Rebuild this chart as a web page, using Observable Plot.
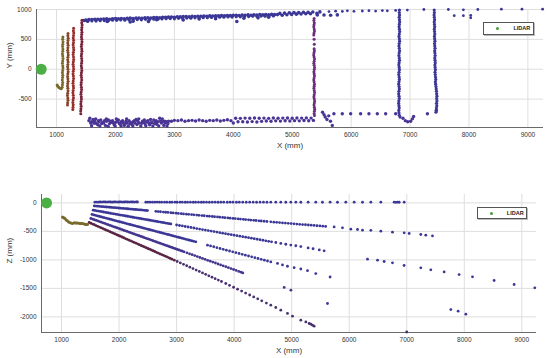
<!DOCTYPE html>
<html><head><meta charset="utf-8">
<script src="https://cdn.jsdelivr.net/npm/d3@7"></script>
<script src="https://cdn.jsdelivr.net/npm/@observablehq/plot@0.6"></script>
<style>
body{margin:0;background:#fff;font-family:"Liberation Sans",Arial,sans-serif}
#wrap{position:relative;width:550px;height:358px;overflow:hidden}
#wrap svg{display:block}
.leg{position:absolute;background:#fff;border:1px solid #555;box-shadow:1px 1px 0 #bbb;font-size:5.5px;font-weight:bold;color:#222}
.leg .d{position:absolute;width:3px;height:3px;border-radius:50%;background:#4a9a3a}
.leg .t{position:absolute}
</style></head><body>
<div id="wrap"></div>
<script>
// ---------- shared ----------
const xTicks = [1000,2000,3000,4000,5000,6000,7000,8000,9000];
const yTicksTop = [-500,0,500,1000];
const zTicks = [-2000,-1500,-1000,-500,0];
const lidar = [[740,0]];
const legendLabel = "LIDAR";

// ---------- top view (X-Y) ----------
const nearA = [[1108,540],[1104,500],[1110,460],[1106,420],[1102,380],[1108,340],[1105,300],[1100,260],[1106,220],[1110,180],[1104,140],[1100,100],[1106,60],[1109,20],[1104,-20],[1100,-60],[1106,-100],[1102,-140],[1098,-180],[1104,-220],[1100,-260],[1095,-300],[1080,-325],[1060,-320],[1040,-305],[1022,-285],[1010,-265]];
const nearB = [[1195,600],[1192,560],[1198,520],[1194,480],[1190,440],[1196,400],[1193,360],[1189,320],[1195,280],[1199,240],[1193,200],[1190,160],[1196,120],[1192,80],[1188,40],[1194,0],[1197,-40],[1191,-80],[1187,-120],[1193,-160],[1196,-200],[1190,-240],[1186,-280],[1192,-320],[1195,-360],[1189,-400],[1185,-440],[1191,-480],[1194,-520],[1188,-560],[1186,-600]];
const nearC = [[1290,685],[1286,645],[1292,605],[1288,565],[1284,525],[1290,485],[1287,445],[1282,405],[1288,365],[1292,325],[1286,285],[1282,245],[1288,205],[1291,165],[1285,125],[1281,85],[1287,45],[1290,5],[1284,-35],[1280,-75],[1286,-115],[1289,-155],[1283,-195],[1279,-235],[1285,-275],[1288,-315],[1282,-355],[1278,-395],[1284,-435],[1287,-475],[1281,-515],[1277,-555],[1283,-595],[1280,-635],[1276,-675]];
const nearD = [[1432,820],[1428,780],[1434,740],[1430,700],[1426,660],[1431,620],[1427,580],[1423,540],[1429,500],[1432,460],[1426,420],[1422,380],[1428,340],[1431,300],[1425,260],[1421,220],[1427,180],[1430,140],[1424,100],[1420,60],[1426,20],[1429,-20],[1422,-60],[1418,-100],[1424,-140],[1427,-180],[1420,-220],[1416,-260],[1422,-300],[1425,-340],[1418,-380],[1414,-420],[1420,-460],[1423,-500],[1416,-540],[1412,-580],[1418,-620],[1414,-660],[1410,-700],[1412,-745]];
const topWall = [[1470,815],[1500,825],[1550,830],[1600,832],[1650,835],[1700,838],[1750,836],[1800,840],[1850,843],[1900,838],[1950,845],[2000,848],[2050,844],[2100,850],[2150,846],[2200,852],[2250,855],[2300,848],[2350,856],[2400,858],[2450,852],[2500,860],[2550,862],[2600,858],[2650,865],[2700,866],[2750,862],[2800,870],[2850,868],[2900,872],[2950,875],[3000,870],[3050,878],[3100,876],[3150,880],[3200,882],[3250,878],[3300,885],[3350,883],[3400,888],[3450,886],[3500,890],[3550,888],[3600,893],[3650,890],[3700,895],[3750,893],[3800,898],[3850,895],[3900,900],[3950,897],[4000,902],[4050,905],[4100,900],[4150,906],[4200,904],[4250,910],[4300,905],[4350,912],[4400,908],[4450,914],[4500,910],[4550,916],[4600,912],[4650,918],[4700,914],
[1520,810],[1860,800],[2250,790],[2300,805],[2560,800],[2700,830],[3150,825],[3420,840],[3700,845],[4060,800],[4180,855],[4420,860],[4600,870],
[4750,915],[4790,935],[4830,905],[4870,940],[4910,912],[4950,945],[4990,918],[5030,950],[5070,922],[5110,948],[5150,925],[5190,955],[5230,928],[5270,952],[5310,930],[5350,958],[5420,935],[5470,960],[5426,909],[5540,909],[5652,905],[5766,910]];
const topWallLow = [[1530,800],[1600,808],[1670,806],[1740,812],[1810,815],[1880,810],[1950,820],[2020,818],[2090,824],[2160,820],[2230,828],[2300,826],[2370,832],[2440,828],[2510,836],[2580,834],[2650,838],[2720,836],[2790,842],[2860,845],[2930,848],[3000,844],[3070,852],[3140,850],[3210,856],[3280,854],[3350,860],[3420,858],[3490,864],[3560,862],[3630,868],[3700,866],[3770,872],[3840,870],[3910,876],[3980,874],[4050,880],[4120,878],[4190,884],[4260,882],[4330,888],[4400,886],[4470,890],[4540,888],[4610,894],[4680,892]];
const topWallFar = [[5624,965],[5737,972],[5851,968],[5936,978],[6048,970],[6190,975],[6302,980],[6416,973],[6530,982],[6614,978],[6756,985],[6954,990],[7235,1000],[7650,1000],[7905,995],[8150,1000],[8550,1005],[8900,1005],[9250,1005],[7750,897],[7905,897],[8030,860],[8030,900]];
const bottomWall = [[1550,-860],[1580,-900],[1600,-880],[1620,-840],[1650,-870],[1680,-910],[1700,-930],[1720,-880],[1750,-850],[1780,-890],[1800,-900],[1830,-940],[1850,-870],[1880,-850],[1900,-910],[1930,-890],[1950,-860],[1980,-930],[2000,-890],[2030,-870],[2050,-850],[2080,-920],[2100,-880],[2130,-900],[2150,-940],[2180,-870],[2200,-900],[2230,-860],[2260,-890],[2280,-920],[2300,-880],[2330,-900],[2350,-840],[2380,-870],[2400,-900],[2430,-950],[2460,-870],[2480,-890],[2500,-910],[2530,-880],[2550,-860],[2580,-930],[2600,-900],[2620,-890],[2650,-850],[2680,-880],[2700,-920],[2720,-880],[2750,-820],[2780,-900],[2800,-870],[2820,-940],[2840,-900],[2860,-880],[2900,-870],
[1565,-820],[1595,-945],[1640,-905],[1665,-830],[1710,-860],[1735,-950],[1765,-910],[1815,-860],[1845,-830],[1875,-955],[1915,-870],[1965,-900],[1995,-950],[2015,-830],[2065,-905],[2095,-950],[2120,-860],[2165,-910],[2190,-830],[2215,-955],[2245,-915],[2295,-950],[2320,-860],[2365,-925],[2395,-830],[2445,-905],[2490,-850],[2515,-945],[2565,-900],[2595,-840],[2635,-950],[2665,-910],[2690,-860],[2735,-950],[2765,-870],[2795,-830],[2835,-870],[2875,-950],[2890,-910],
[2950,-870],[3000,-855],[3060,-860],[3120,-850],[3180,-870],[3240,-860],[3300,-855],[3360,-865],[3420,-850],[3480,-860],[3540,-870],[3600,-855],[3660,-860],[3720,-850],[3780,-865],[3840,-855],[3900,-845],[3960,-860],[4000,-900],
[4040,-820],[4120,-822],[4200,-818],[4280,-820],[4360,-816],[4440,-820],[4520,-818],[4600,-822],[4680,-816],[4760,-820],[4840,-818],[4920,-815],[5000,-820],[5080,-816],[5160,-818],[5240,-814],[5320,-818],
[4080,-880],[4160,-878],[4240,-884],[4320,-876],[4400,-882],[4480,-872],[4560,-866],[4640,-870],[4720,-864],[4800,-868],[4880,-862],[4960,-866],[5040,-860],[5120,-864],[5200,-858],[5280,-862],[5360,-856],
[5515,-720],[5540,-760],[5560,-800],[5590,-840],[5620,-780],[5650,-870],[5680,-940],
[5708,-746],[5850,-746],[5992,-744],[6161,-746],[6302,-744],[6444,-746],[6586,-744],[6756,-746],
[6880,-820],[6920,-860],[6960,-880],[7010,-870],[7040,-830],[7060,-790],[7295,-746],[7447,-690]];
const wall5400 = [[5372,850],[5368,815],[5375,780],[5370,745],[5366,710],[5373,675],[5377,640],[5370,605],[5366,575],[5371,500],[5375,420],[5372,345],[5376,310],[5369,275],[5365,240],[5371,205],[5378,170],[5372,135],[5367,100],[5373,65],[5379,30],[5374,-5],[5368,-40],[5372,-75],[5377,-110],[5371,-145],[5366,-180],[5372,-215],[5378,-250],[5373,-285],[5368,-320],[5374,-355],[5379,-390],[5373,-425],[5368,-460],[5374,-495],[5380,-530],[5375,-565],[5370,-600],[5376,-635],[5381,-670],[5377,-705],[5372,-740],[5378,-775]];
const wall6800 = [[6820,990],[6818,950],[6822,910],[6816,870],[6820,830],[6824,790],[6818,750],[6814,710],[6820,670],[6824,630],[6817,590],[6813,550],[6819,510],[6823,470],[6816,430],[6812,390],[6818,350],[6822,310],[6815,270],[6811,230],[6817,190],[6821,150],[6814,110],[6810,70],[6816,30],[6820,-10],[6813,-50],[6809,-90],[6815,-130],[6819,-170],[6812,-210],[6808,-250],[6814,-290],[6818,-330],[6811,-370],[6807,-410],[6813,-450],[6817,-490],[6810,-530],[6806,-570],[6812,-610],[6816,-650],[6809,-690],[6812,-730],[6818,-770],[6830,-800]];
const wall7400 = [[7410,990],[7413,950],[7408,910],[7412,870],[7416,830],[7410,790],[7414,750],[7418,710],[7412,670],[7416,630],[7420,590],[7414,550],[7418,510],[7422,470],[7416,430],[7420,390],[7424,350],[7418,310],[7422,270],[7426,230],[7420,190],[7424,150],[7428,110],[7422,70],[7426,30],[7430,-10],[7424,-50],[7428,-90],[7432,-130],[7436,-170],[7430,-210],[7434,-250],[7440,-290],[7444,-330],[7448,-370],[7452,-410],[7456,-450],[7452,-490],[7456,-530],[7450,-570],[7454,-610],[7448,-650],[7444,-690],[7440,-720]];

// ---------- side view (X-Z) ----------
const nearZ = [[1017,-246],[1030,-255],[1045,-265],[1060,-274],[1080,-300],[1100,-315],[1120,-330],[1140,-345],[1165,-355],[1190,-361],[1220,-350],[1240,-352],[1260,-355],[1280,-351],[1307,-358],[1325,-360],[1345,-362],[1366,-361],[1394,-372],[1410,-375],[1430,-378],[1452,-379]];
const ring0 = [[1580,12],[1610,14],[1640,13],[1670,15],[1700,14],[1730,16],[1760,15],[1790,14],[1820,16],[1850,15],[1880,13],[1910,15],[1940,16],[1970,14],[2000,15],[2030,16],[2060,14],[2090,15],[2120,17],[2150,15],[2180,14],[2210,16],[2240,15],[2270,14],[2300,16],[2320,15],
[2465,12],[2500,13],[2540,12],[2580,13],[2620,12],[2660,14],[2700,12],[2740,13],[2790,12],[2830,13],[2880,11],[2920,12],[2970,13],[3010,11],[3060,12],[3100,13],[3150,11],[3190,12],[3240,12],[3290,11],[3330,13],[3380,12],[3430,11],[3470,12],[3520,13],[3570,11],[3620,12],[3670,12],[3720,11],[3770,13],[3820,12],[3880,11],[3930,12],[3980,13],[4040,11],[4090,12],[4150,12],[4210,11],[4270,12],[4330,13],[4390,11],[4450,12],[4510,13],[4570,11],[4637,12],
[4724,12],[4811,12],[4898,11],[4985,12],[5072,12],[5159,11],[5286,12],[5419,12],[5535,11],[5668,12],[5796,11],[5941,12],[6086,12],[6231,11],[6376,12],[6550,12],[6781,12],[6810,10],[6839,12],[6868,11],[6955,12]];
const ring1 = [[1570,-53],[1600,-56],[1630,-58],[1660,-61],[1690,-64],[1720,-66],[1750,-69],[1780,-72],[1810,-74],[1840,-77],[1870,-79],[1900,-82],[1930,-85],[1960,-87],[1990,-90],[2020,-93],[2050,-95],[2080,-98],[2110,-100],[2140,-103],[2170,-106],[2200,-108],[2230,-111],[2260,-114],[2290,-116],[2320,-119],[2350,-122],[2380,-124],[2410,-127],[2440,-130],[2470,-132],[2494,-135],
[2640,-149],[2680,-152],[2720,-156],[2770,-161],[2810,-164],[2850,-168],[2900,-173],[2940,-177],[2990,-181],[3030,-185],[3080,-189],[3120,-193],[3170,-198],[3210,-201],[3260,-206],[3300,-210],[3350,-214],[3390,-218],[3440,-223],[3480,-226],[3530,-231],[3570,-235],[3620,-239],[3660,-243],[3710,-247],[3750,-251],[3800,-256],[3840,-259],[3890,-264],[3930,-268],[3980,-272],[4020,-276],[4070,-281],[4110,-284],[4160,-289],[4200,-293],[4250,-297],[4290,-301],[4340,-306],[4380,-309],[4430,-314],[4470,-318],[4520,-322],[4570,-327],[4637,-333],
[4690,-338],[4740,-342],[4790,-346],[4840,-351],[4890,-355],[4940,-359],[4990,-363],[5040,-367],[5090,-371],[5140,-376],[5190,-380],[5240,-384],[5290,-388],[5340,-392],[5390,-396],[5440,-401],[5490,-405],[5540,-409],[5590,-413],
[5738,-421],[5883,-438],[6028,-461],[6144,-467],[6231,-479],[6376,-482],[6550,-496],[6752,-514],[6955,-526],[7042,-537],[7244,-555],[7331,-567],[7447,-579]];
const ring2 = [[1550,-128],[1580,-133],[1610,-139],[1640,-144],[1670,-149],[1700,-155],[1730,-160],[1760,-166],[1790,-171],[1820,-176],[1850,-182],[1880,-187],[1910,-192],[1940,-198],[1970,-203],[2000,-209],[2030,-214],[2060,-219],[2090,-225],[2120,-230],[2150,-235],[2180,-241],[2210,-246],[2240,-252],[2270,-257],[2300,-262],[2330,-268],[2360,-273],[2390,-278],[2420,-284],[2450,-289],[2480,-294],[2510,-300],[2540,-305],[2570,-311],[2600,-316],[2630,-321],[2660,-327],[2690,-332],[2720,-337],[2750,-343],[2780,-348],[2810,-354],[2840,-359],[2870,-364],[2900,-370],
[3000,-388],[3050,-397],[3100,-405],[3150,-414],[3200,-423],[3250,-432],[3300,-441],[3350,-450],[3400,-459],[3450,-468],[3500,-477],[3550,-486],[3600,-495],[3650,-504],[3700,-513],[3750,-522],[3800,-531],[3850,-540],[3900,-549],[3950,-558],[4000,-567],[4050,-576],[4100,-585],[4150,-593],[4200,-602],[4250,-611],[4300,-620],[4350,-629],[4400,-638],[4450,-647],[4500,-656],[4550,-665],[4600,-674],
[4650,-684],[4724,-695],[4811,-712],[4898,-726],[4985,-740],[5072,-752],[5159,-766],[5286,-790],[5372,-805],[5480,-826],[5564,-842],
[6318,-988],[6492,-1005],[6607,-1028],[6752,-1052],[6954,-1099],[7244,-1140],[7418,-1175],[7650,-1211],[7910,-1257],[8143,-1298],[8518,-1362],[8866,-1432],[9226,-1491]];
const ring3 = [[1530,-203],[1560,-211],[1590,-219],[1620,-227],[1650,-235],[1680,-243],[1710,-251],[1740,-259],[1770,-267],[1800,-275],[1830,-283],[1860,-291],[1890,-299],[1920,-307],[1950,-315],[1980,-323],[2010,-331],[2040,-339],[2070,-347],[2100,-355],[2130,-363],[2160,-371],[2190,-379],[2220,-387],[2250,-395],[2280,-403],[2310,-411],[2340,-419],[2370,-427],[2400,-435],[2430,-443],[2460,-451],[2490,-459],[2520,-467],[2550,-475],[2580,-483],[2610,-491],[2640,-499],[2670,-507],[2700,-515],[2730,-523],[2760,-531],[2790,-539],[2820,-547],[2850,-555],[2880,-563],[2910,-571],[2940,-579],[2970,-587],[3000,-595],[3030,-603],[3060,-611],[3090,-619],[3120,-627],[3150,-635],[3180,-643],[3210,-651],[3240,-659],[3270,-667],[3300,-675],[3334,-684],
[3537,-742],[3590,-756],[3645,-770],[3700,-785],[3755,-800],[3810,-815],[3865,-829],[3920,-844],[3975,-859],[4030,-873],[4085,-888],[4140,-903],[4195,-917],[4250,-932],[4305,-947],[4360,-962],[4415,-976],[4470,-991],[4525,-1006],[4580,-1020],
[4637,-1035],[4753,-1062],[4840,-1088],[4927,-1112],[5043,-1136],[5159,-1160],[5275,-1190],[5419,-1240],[5668,-1300],
[7766,-1871],[7893,-1900],[8027,-1953]];
const ring4 = [[1510,-274],[1540,-285],[1570,-296],[1600,-306],[1630,-317],[1660,-328],[1690,-339],[1720,-350],[1750,-361],[1780,-371],[1810,-382],[1840,-393],[1870,-404],[1900,-415],[1930,-426],[1960,-436],[1990,-447],[2020,-458],[2050,-469],[2080,-480],[2110,-491],[2140,-501],[2170,-512],[2200,-523],[2230,-534],[2260,-545],[2290,-556],[2320,-566],[2350,-577],[2380,-588],[2410,-599],[2440,-610],[2470,-621],[2500,-631],[2530,-642],[2560,-653],[2590,-664],[2620,-675],[2650,-686],[2680,-696],[2710,-707],[2740,-718],[2770,-729],[2800,-740],[2830,-751],[2860,-761],[2890,-772],[2920,-783],[2950,-794],[2980,-805],[3010,-816],[3040,-826],[3070,-837],[3100,-848],[3130,-859],
[3180,-877],[3225,-893],[3270,-909],[3315,-925],[3360,-942],[3405,-958],[3450,-974],[3495,-990],[3540,-1007],[3585,-1023],[3630,-1039],[3675,-1055],[3720,-1072],[3765,-1088],[3810,-1104],[3855,-1120],[3900,-1137],[3945,-1153],[3990,-1169],[4035,-1185],[4080,-1202],[4120,-1216],[4150,-1228],
[4870,-1484],[4987,-1532],[5623,-1765]];
const ring5near = [[1480,-344],[1510,-357],[1540,-371],[1570,-384],[1600,-398],[1630,-411],[1660,-424],[1690,-438],[1720,-451],[1750,-465],[1780,-478],[1810,-491],[1840,-505],[1870,-518],[1900,-532],[1930,-545],[1960,-559],[1990,-572],[2020,-585],[2050,-599],[2080,-612],[2110,-626],[2140,-639],[2170,-652],[2200,-666],[2230,-679],[2260,-693],[2290,-706],[2320,-719],[2350,-733],[2380,-746],[2410,-760],[2440,-773],[2470,-786],[2500,-800],[2530,-813],[2560,-827],[2590,-840],[2620,-853],[2650,-867],[2680,-880],[2710,-893],[2740,-907],[2770,-920],[2800,-934],[2830,-947],[2860,-960],[2890,-974],[2920,-987],[2960,-1005]];
const ring5far = [[3010,-1028],[3065,-1053],[3120,-1078],[3175,-1103],[3230,-1128],[3285,-1153],[3340,-1178],[3395,-1203],[3450,-1228],[3505,-1254],[3560,-1279],[3615,-1304],[3670,-1329],[3725,-1354],[3780,-1379],[3855,-1414],[3920,-1446],[3990,-1480],[4060,-1514],[4130,-1548],[4200,-1582],[4270,-1616],[4340,-1650],[4410,-1684],[4480,-1718],[4560,-1757],
[4637,-1795],[4724,-1835],[4811,-1882],[4927,-1940],[5014,-1988],[5159,-2058],[5246,-2088],[5304,-2116],[5333,-2128],[5362,-2146],[5390,-2163],[7000,-2265]];

// ---------- colours ----------
const cBlue = "#3b3796", cMag = "#6e2c7c";
const cOlive = "#7a6a2c", cBrown = "#84452a", cRed = "#9a2c2c", cDark = "#78233a";
const cMaroon = "#5a2445", cGreen = "#4caf46";

(function(){
const font = "'Liberation Sans', Arial, sans-serif";
const fx = d => d[0], fy = d => d[1];

function frame(xDomain, yDomain, yTicks, yLabel, dims, dataMarks){
  return Plot.plot({
    width: 550, height: dims.h,
    marginLeft: dims.ml, marginRight: dims.mr, marginTop: dims.mt, marginBottom: dims.mb,
    style: {fontFamily: font, fontSize: "6.5px", color: "#333", background: "#fff", overflow: "visible"},
    x: {domain: xDomain},
    y: {domain: yDomain},
    marks: [
      Plot.gridX(xTicks, {stroke: "#dedede", strokeOpacity: 1}),
      Plot.gridY(yTicks, {stroke: "#dedede", strokeOpacity: 1}),
      Plot.axisX(xTicks, {tickSize: 0, tickPadding: 5, tickFormat: d => String(d), label: null}),
      Plot.axisY(yTicks, {tickSize: 0, tickPadding: 5, tickFormat: d => String(d), label: null}),
      Plot.ruleX([xDomain[0]], {stroke: "#6a6a6a", strokeWidth: 1}),
      Plot.ruleY([yDomain[0]], {stroke: "#6a6a6a", strokeWidth: 1}),
      ...dataMarks,
      Plot.dot(lidar, {x: fx, y: fy, r: 5.5, fill: cGreen}),
      Plot.text(["X (mm)"], {frameAnchor: "bottom", dy: 20, fontSize: 8, fill: "#333"}),
      Plot.text([yLabel], {frameAnchor: "left", dx: -27 - (dims.ml - 36), rotate: -90, fontSize: 8, fill: "#333"})
    ]
  });
}

const dotT = (arr, fill, r = 1.5) => Plot.dot(arr, {x: fx, y: fy, r, fill, stroke: "none"});

const topPlot = frame([660, 9265], [-975, 1000], yTicksTop, "Y (mm)",
  {h: 160, ml: 36, mr: 7, mt: 9, mb: 33},
  [
    dotT(topWallLow, cBlue, 1.6),
    dotT(topWall, cBlue, 1.8),
    dotT(topWallFar, cBlue, 1.4),
    dotT(bottomWall, "#4a3596", 1.7),
    dotT(wall5400, cMag, 1.5),
    dotT(wall6800, cBlue, 1.6),
    dotT(wall7400, cBlue, 1.6),
    dotT(nearA, cOlive, 1.5),
    dotT(nearB, cBrown, 1.5),
    dotT(nearC, cRed, 1.5),
    dotT(nearD, cDark, 1.5)
  ]);

const sidePlot = frame([652, 9255], [-2274, 147], zTicks, "Z (mm)",
  {h: 198, ml: 41, mr: 14, mt: 34, mb: 26},
  [
    dotT(ring0, cBlue, 1.4),
    dotT(ring1, cBlue, 1.4),
    dotT(ring2, cBlue, 1.4),
    dotT(ring3, cBlue, 1.4),
    dotT(ring4, "#43348f", 1.4),
    dotT(ring5far, "#47306f", 1.4),
    dotT(ring5near, cMaroon, 1.4),
    dotT(nearZ, cOlive, 1.5)
  ]);

const wrap = document.getElementById("wrap");
wrap.appendChild(topPlot);
wrap.appendChild(sidePlot);

function legend(left, topPx, w, h){
  const L = document.createElement("div");
  L.className = "leg";
  L.style.left = left + "px"; L.style.top = topPx + "px";
  L.style.width = w + "px"; L.style.height = h + "px";
  const d = document.createElement("div"); d.className = "d";
  d.style.left = (w * 0.28 - 1.5) + "px"; d.style.top = (h / 2 - 1.5) + "px";
  const t = document.createElement("div"); t.className = "t";
  t.textContent = legendLabel;
  t.style.left = (w * 0.6) + "px"; t.style.top = (h / 2 - 3.5) + "px";
  L.appendChild(d); L.appendChild(t);
  wrap.appendChild(L);
}
legend(483, 22, 49, 11);
legend(477, 207, 48, 10);
})();
</script>
</body></html>
